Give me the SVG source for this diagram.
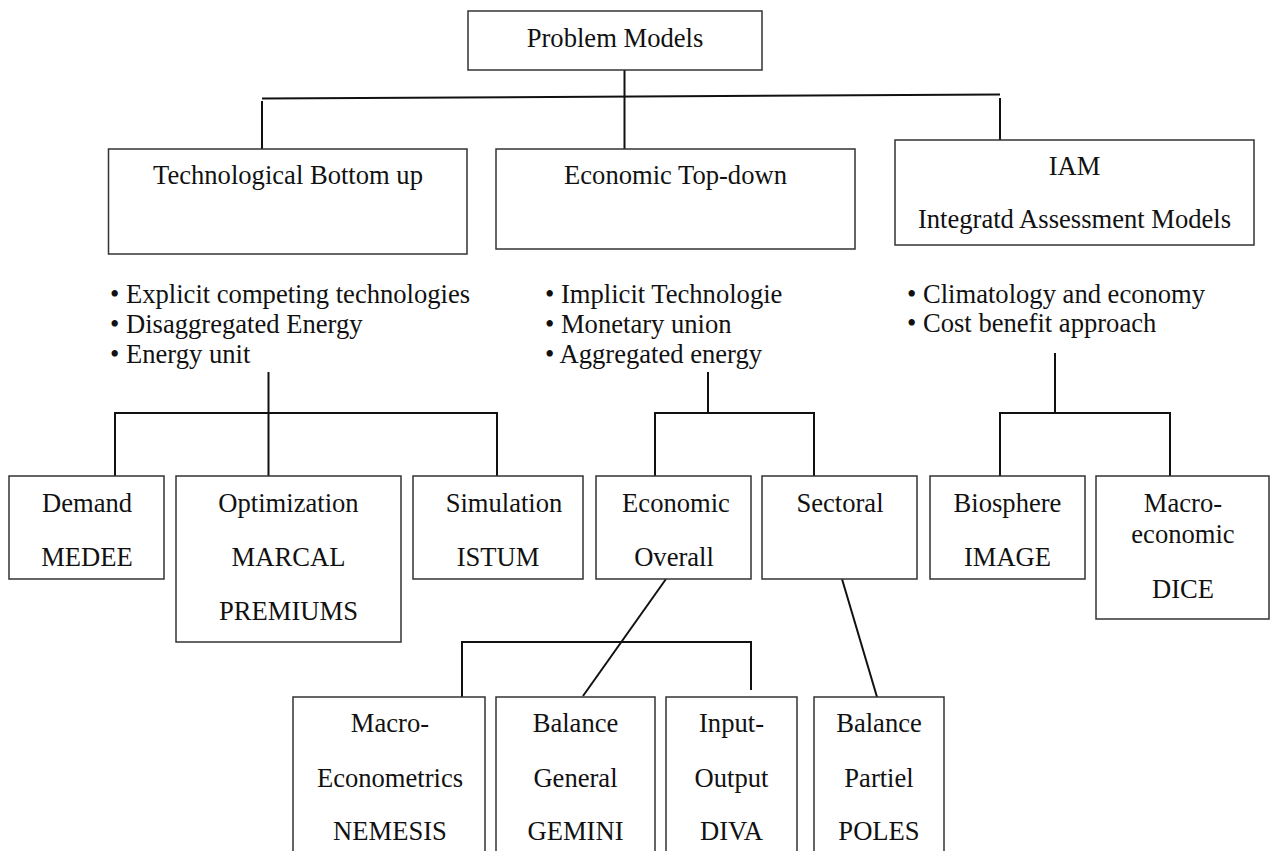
<svg xmlns="http://www.w3.org/2000/svg" width="1272" height="851" viewBox="0 0 1272 851">
<style>
  .box { fill: #ffffff; stroke: #333333; stroke-width: 1.5; }
  .lbl { font-family: "Liberation Serif", "Times New Roman", serif; font-size: 26.6px; fill: #111111; text-anchor: middle; }
  .bul { font-family: "Liberation Serif", "Times New Roman", serif; font-size: 26.6px; fill: #111111; text-anchor: start; }
  .con { stroke: #111111; stroke-width: 2; fill: none; }
</style>
<rect x="0" y="0" width="1272" height="851" fill="#ffffff"/>

<g id="connectors">
  <line class="con" x1="262" y1="98.5" x2="1000" y2="94.5"/>
  <line class="con" x1="624.5" y1="70" x2="624.5" y2="153"/>
  <line class="con" x1="262" y1="101" x2="262" y2="149"/>
  <line class="con" x1="1000" y1="98" x2="1000" y2="140"/>

  <line class="con" x1="268.5" y1="372" x2="268.5" y2="476"/>
  <polyline class="con" points="115,476 115,413 497,413 497,476"/>

  <line class="con" x1="708" y1="372" x2="708" y2="413"/>
  <polyline class="con" points="655,476 655,413 814,413 814,476"/>

  <line class="con" x1="1055" y1="353" x2="1055" y2="413"/>
  <polyline class="con" points="1000,476 1000,413 1170,413 1170,476"/>

  <polyline class="con" points="462,697 462,642 751,642 751,690"/>
  <line class="con" x1="666" y1="579" x2="583" y2="696"/>
  <line class="con" x1="842" y1="579" x2="877" y2="697"/>
</g>

<g id="problem-models">
  <rect class="box" x="468" y="11" width="294" height="59"/>
  <text class="lbl" x="615" y="47">Problem Models</text>
</g>

<g id="technological">
  <rect class="box" x="108.5" y="149" width="358.5" height="105"/>
  <text class="lbl" x="288" y="184">Technological Bottom up</text>
</g>

<g id="economic">
  <rect class="box" x="496" y="149" width="359" height="100"/>
  <text class="lbl" x="675.5" y="184">Economic Top-down</text>
</g>

<g id="iam">
  <rect class="box" x="895" y="140" width="359" height="105"/>
  <text class="lbl" x="1074.5" y="175">IAM</text>
  <text class="lbl" x="1074.5" y="228">Integratd Assessment Models</text>
</g>

<g id="tech-bullets">
  <text class="bul" x="110" y="303">• Explicit competing technologies</text>
  <text class="bul" x="110" y="333">• Disaggregated Energy</text>
  <text class="bul" x="110" y="363">• Energy unit</text>
</g>

<g id="eco-bullets">
  <text class="bul" x="545" y="303">• Implicit Technologie</text>
  <text class="bul" x="545" y="333">• Monetary union</text>
  <text class="bul" x="545" y="363">• Aggregated energy</text>
</g>

<g id="iam-bullets">
  <text class="bul" x="907" y="303">• Climatology and economy</text>
  <text class="bul" x="907" y="332">• Cost benefit approach</text>
</g>

<g id="demand">
  <rect class="box" x="9" y="476" width="155" height="103"/>
  <text class="lbl" x="87" y="512">Demand</text>
  <text class="lbl" x="87" y="566">MEDEE</text>
</g>

<g id="optimization">
  <rect class="box" x="176" y="476" width="225" height="166"/>
  <text class="lbl" x="288.5" y="512">Optimization</text>
  <text class="lbl" x="288.5" y="566">MARCAL</text>
  <text class="lbl" x="288.5" y="620">PREMIUMS</text>
</g>

<g id="simulation">
  <rect class="box" x="413" y="476" width="170" height="103"/>
  <text class="lbl" x="504" y="512">Simulation</text>
  <text class="lbl" x="498" y="566">ISTUM</text>
</g>

<g id="economic-overall">
  <rect class="box" x="596" y="476" width="155" height="103"/>
  <text class="lbl" x="676" y="512">Economic</text>
  <text class="lbl" x="674" y="566">Overall</text>
</g>

<g id="sectoral">
  <rect class="box" x="762" y="476" width="155" height="103"/>
  <text class="lbl" x="840" y="512">Sectoral</text>
</g>

<g id="biosphere">
  <rect class="box" x="930" y="476" width="155" height="103"/>
  <text class="lbl" x="1007.5" y="512">Biosphere</text>
  <text class="lbl" x="1007.5" y="566">IMAGE</text>
</g>

<g id="macro-economic">
  <rect class="box" x="1096" y="476" width="173" height="143"/>
  <text class="lbl" x="1183" y="512">Macro-</text>
  <text class="lbl" x="1183" y="543">economic</text>
  <text class="lbl" x="1183" y="598">DICE</text>
</g>

<g id="macro-econometrics">
  <rect class="box" x="293" y="697" width="192" height="170"/>
  <text class="lbl" x="390" y="732">Macro-</text>
  <text class="lbl" x="390" y="787">Econometrics</text>
  <text class="lbl" x="390" y="840">NEMESIS</text>
</g>

<g id="balance-general">
  <rect class="box" x="496" y="697" width="159" height="170"/>
  <text class="lbl" x="575.5" y="732">Balance</text>
  <text class="lbl" x="575.5" y="787">General</text>
  <text class="lbl" x="575.5" y="840">GEMINI</text>
</g>

<g id="input-output">
  <rect class="box" x="666" y="697" width="131" height="170"/>
  <text class="lbl" x="731.5" y="732">Input-</text>
  <text class="lbl" x="731.5" y="787">Output</text>
  <text class="lbl" x="731.5" y="840">DIVA</text>
</g>

<g id="balance-partiel">
  <rect class="box" x="814" y="697" width="130" height="170"/>
  <text class="lbl" x="879" y="732">Balance</text>
  <text class="lbl" x="879" y="787">Partiel</text>
  <text class="lbl" x="879" y="840">POLES</text>
</g>
</svg>
